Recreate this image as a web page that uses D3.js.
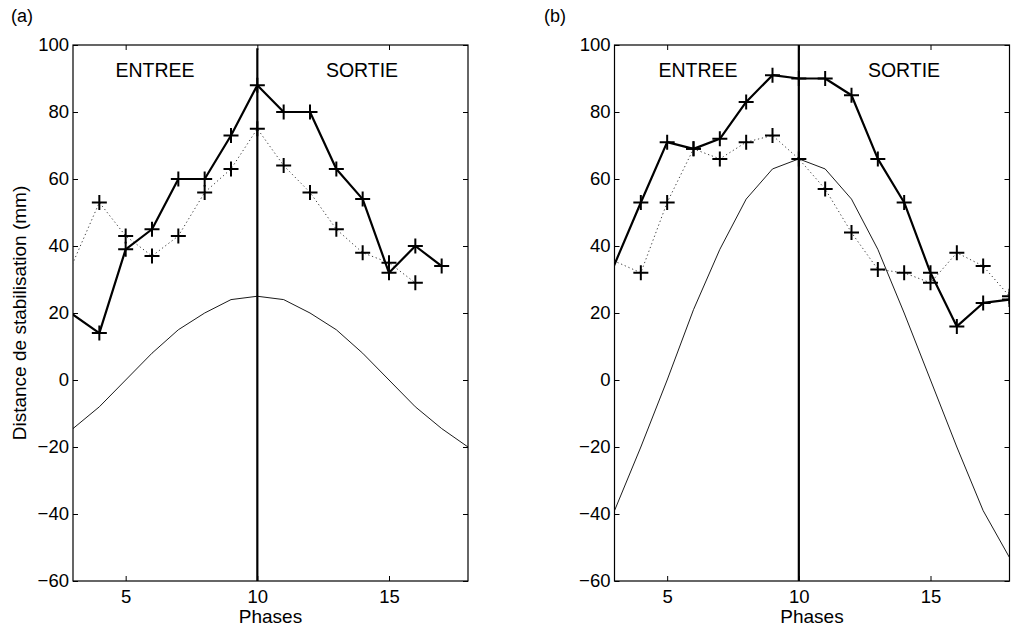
<!DOCTYPE html>
<html>
<head>
<meta charset="utf-8">
<script src="https://cdn.jsdelivr.net/npm/d3@7"></script>
<style>
  html, body { margin: 0; padding: 0; background: #fff; }
  svg { display: block; }
  text { font-family: "Liberation Sans", Arial, Helvetica, sans-serif; fill: #000; }
</style>
</head>
<body>
<svg id="chart" width="1011" height="632"></svg>
<script>
// ---------- data ----------
const xTicks = [5, 10, 15];
const yTicks = [-60, -40, -20, 0, 20, 40, 60, 80, 100];
const xDomain = [3, 18];
const yDomain = [-60, 100];
const regionLabels = ["ENTREE", "SORTIE"];
const yLabel = "Distance de stabilisation (mm)";
const xLabel = "Phases";
const boundaryPhase = 10;

// Panel (a)
const aSolidX  = [2, 4, 5, 6, 7, 8, 9, 10, 11, 12, 13, 14, 15, 16, 17];
const aSolidY  = [25, 14, 39, 45, 60, 60, 73, 88, 80, 80, 63, 54, 32, 40, 34];
const aDotX    = [2, 4, 5, 6, 7, 8, 9, 10, 11, 12, 13, 14, 15, 16];
const aDotY    = [17, 53, 43, 37, 43, 56, 63, 75, 64, 56, 45, 38, 35, 29];
const aThinX   = [3, 4, 5, 6, 7, 8, 9, 10, 11, 12, 13, 14, 15, 16, 17, 18];
const aThinY   = [-14.5, -8, 0, 8, 15, 20, 24, 25, 24, 20, 15, 8, 0, -8, -14.5, -20];
const aVLine   = [-60, 99];

// Panel (b)
const bSolidX  = [2, 4, 5, 6, 7, 8, 9, 10, 11, 12, 13, 14, 15, 16, 17, 18];
const bSolidY  = [16, 53, 71, 69, 72, 83, 91, 90, 90, 85, 66, 53, 32, 16, 23, 24];
const bDotX    = [2, 4, 5, 6, 7, 8, 9, 10, 11, 12, 13, 14, 15, 16, 17, 18];
const bDotY    = [39, 32, 53, 69, 66, 71, 73, 66, 57, 44, 33, 32, 29, 38, 34, 25];
const bThinX   = [3, 4, 5, 6, 7, 8, 9, 10, 11, 12, 13, 14, 15, 16, 17, 18];
const bThinY   = [-39, -20, 0, 21, 39, 54, 63, 66, 63, 54, 39, 20, 0, -20, -39, -53];
const bVLine   = [-60, 100];

const panels = [
  { tag: "(a)", left: 73, right: 468, solid: [aSolidX, aSolidY], dot: [aDotX, aDotY], thin: [aThinX, aThinY], vline: aVLine, showYLabel: true, tagX: 11, entreeX: 155, sortieX: 362 },
  { tag: "(b)", left: 614.5, right: 1009.5, solid: [bSolidX, bSolidY], dot: [bDotX, bDotY], thin: [bThinX, bThinY], vline: bVLine, showYLabel: false, tagX: 544, entreeX: 698, sortieX: 904 }
];

const plotTop = 45, plotBottom = 581;
const svg = d3.select("#chart");
const zip = (xs, ys) => xs.map((x, i) => [x, ys[i]]);

panels.forEach((p, idx) => {
  const x = d3.scaleLinear().domain(xDomain).range([p.left, p.right]);
  const y = d3.scaleLinear().domain(yDomain).range([plotBottom, plotTop]);
  const g = svg.append("g");

  const clipId = "clip" + idx;
  svg.append("clipPath").attr("id", clipId)
    .append("rect").attr("x", p.left).attr("y", plotTop)
    .attr("width", p.right - p.left).attr("height", plotBottom - plotTop);

  // axes
  const fs = "18.5px";
  const axL = g.append("g").attr("transform", `translate(${p.left},0)`)
    .call(d3.axisLeft(y).tickValues(yTicks).tickSizeInner(-5).tickSizeOuter(0).tickPadding(4));
  const axR = g.append("g").attr("transform", `translate(${p.right},0)`)
    .call(d3.axisRight(y).tickValues(yTicks).tickSizeInner(-5).tickSizeOuter(0).tickFormat(""));
  const axB = g.append("g").attr("transform", `translate(0,${plotBottom})`)
    .call(d3.axisBottom(x).tickValues(xTicks).tickSizeInner(-5).tickSizeOuter(0).tickPadding(9));
  const axT = g.append("g").attr("transform", `translate(0,${plotTop})`)
    .call(d3.axisTop(x).tickValues(xTicks).tickSizeInner(-5).tickSizeOuter(0).tickFormat(""));
  [axL, axR, axB, axT].forEach(a => {
    a.select(".domain").remove();
    a.attr("font-family", null).attr("font-size", null);
    a.selectAll("line").attr("stroke", "#000").attr("stroke-width", 1);
    a.selectAll("text").style("font-size", fs);
  });

  // frame
  g.append("rect").attr("x", p.left).attr("y", plotTop)
    .attr("width", p.right - p.left).attr("height", plotBottom - plotTop)
    .attr("fill", "none").attr("stroke", "#000").attr("stroke-width", 1.2);

  const plot = g.append("g").attr("clip-path", `url(#${clipId})`);
  const line = d3.line().x(d => x(d[0])).y(d => y(d[1]));

  // thin model curve
  plot.append("path").datum(zip(p.thin[0], p.thin[1]))
    .attr("d", line).attr("fill", "none").attr("stroke", "#000").attr("stroke-width", 0.9);

  // dotted series
  const dotData = zip(p.dot[0], p.dot[1]);
  plot.append("path").datum(dotData)
    .attr("d", line).attr("fill", "none").attr("stroke", "#444").attr("stroke-width", 1)
    .attr("stroke-dasharray", "1.3,2.7");

  // solid series
  const solidData = zip(p.solid[0], p.solid[1]);
  plot.append("path").datum(solidData)
    .attr("d", line).attr("fill", "none").attr("stroke", "#000").attr("stroke-width", 2.2)
    .attr("stroke-linejoin", "round");

  // vertical boundary line
  plot.append("line")
    .attr("x1", x(boundaryPhase)).attr("x2", x(boundaryPhase))
    .attr("y1", y(p.vline[0])).attr("y2", y(p.vline[1]))
    .attr("stroke", "#000").attr("stroke-width", 2.2);

  // plus markers
  const h = 7.5;
  const plus = d => `M${x(d[0]) - h},${y(d[1])}H${x(d[0]) + h}M${x(d[0])},${y(d[1]) - h}V${y(d[1]) + h}`;
  [dotData, solidData].forEach(data => {
    plot.selectAll(null).data(data).enter().append("path")
      .attr("d", plus).attr("stroke", "#000").attr("stroke-width", 2).attr("fill", "none");
  });

  // region labels
  g.append("text").attr("x", p.entreeX).attr("y", 77).attr("text-anchor", "middle")
    .style("font-size", "19.5px").text(regionLabels[0]);
  g.append("text").attr("x", p.sortieX).attr("y", 77).attr("text-anchor", "middle")
    .style("font-size", "19.5px").text(regionLabels[1]);

  // panel tag
  g.append("text").attr("x", p.tagX).attr("y", 22).style("font-size", "18px").text(p.tag);

  // x label
  g.append("text").attr("x", (p.left + p.right) / 2).attr("y", 623).attr("text-anchor", "middle")
    .style("font-size", "19px").text(xLabel);

  if (p.showYLabel) {
    g.append("text").attr("transform", `translate(26,${(plotTop + plotBottom) / 2}) rotate(-90)`)
      .attr("text-anchor", "middle").style("font-size", "19px").text(yLabel);
  }
});
</script>
</body>
</html>
